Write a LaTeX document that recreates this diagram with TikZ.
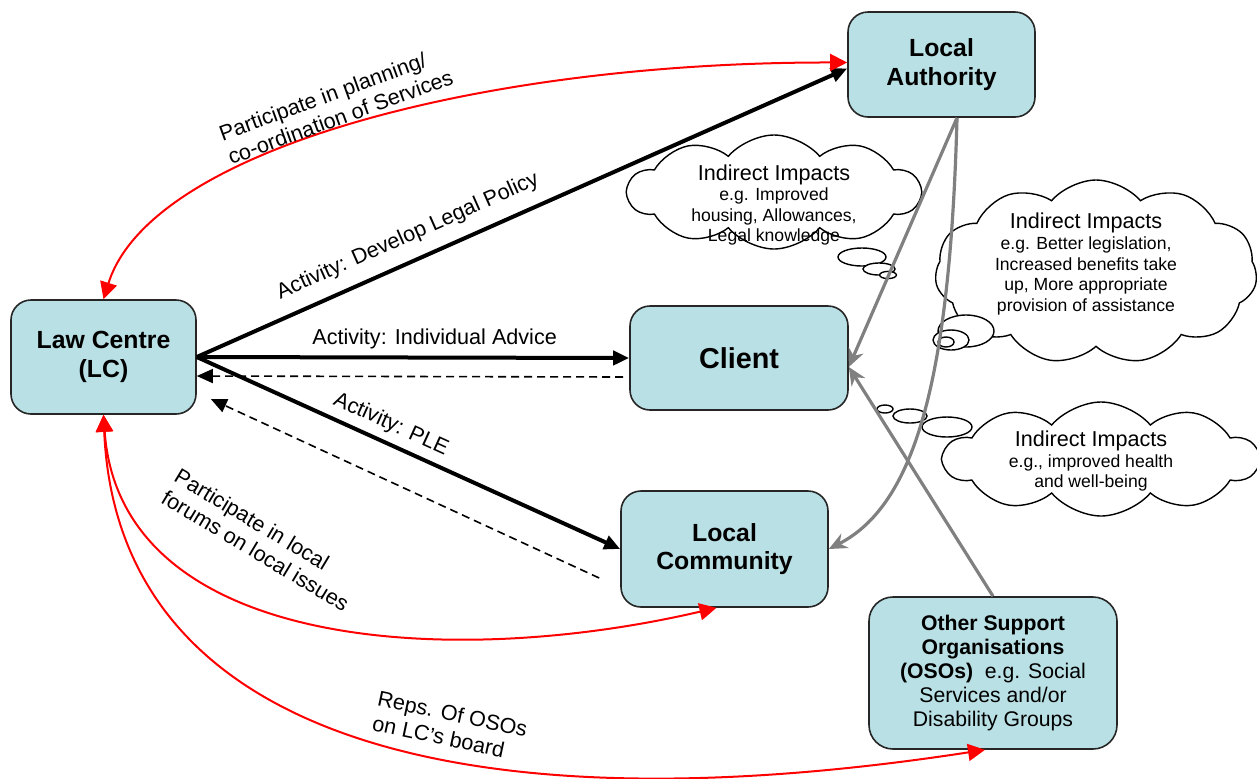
\documentclass[tikz,border=0pt]{standalone}
\usepackage{fontspec}
\setmainfont{Liberation Sans}
\usetikzlibrary{arrows.meta, shapes.symbols}

\definecolor{boxblue}{RGB}{185,224,228}
\definecolor{linkgray}{RGB}{128,128,128}

\tikzset{
  unit/.style={draw=black!85, line width=0.8pt, fill=boxblue, rounded corners=10pt,
    align=center, inner sep=0pt, font=\fontsize{12.4}{14.2}\selectfont\bfseries},
  activity/.style={line width=2pt, -{Triangle[length=8pt,width=7pt]}},
  feedback/.style={line width=0.8pt, dash pattern=on 4pt off 2.5pt, -{Triangle[length=8pt,width=7pt]}},
  partner/.style={red, line width=1pt, {Triangle[length=8.5pt,width=8.5pt]}-{Triangle[length=8.5pt,width=8.5pt]}},
  influence/.style={linkgray, line width=1.6pt, -{Stealth[length=9pt,width=8pt]}},
  impact/.style={cloud, cloud puffs=10, cloud puff arc=100, cloud ignores aspect, draw, line width=0.7pt, inner sep=0pt},
  impacttext/.style={align=center, font=\fontsize{8.8}{10.3}\selectfont},
  bubble/.style={draw, fill=white, line width=0.7pt},
  edgelabel/.style={font=\fontsize{10.8}{12.6}\selectfont}
}

\begin{document}
\begin{tikzpicture}[x=0.5pt, y=0.5pt]
  \useasboundingbox (0,0) rectangle (1257,-778);

  %Define nodes
  \node[unit, minimum width=92.5pt, minimum height=57pt] (lc) at (103.5,-357) {Law Centre\\(LC)};
  \node[unit, minimum width=93.5pt, minimum height=52.5pt] (la) at (941.5,-64.5) {Local\\Authority};
  \node[unit, minimum width=109pt, minimum height=52pt, font=\fontsize{14.4}{16}\selectfont\bfseries] (client) at (739,-358) {Client};
  \node[unit, minimum width=103.5pt, minimum height=58pt] (lcom) at (724.5,-549) {Local\\Community};
  \node[unit, minimum width=124pt, minimum height=76pt, rounded corners=12pt, font=\fontsize{10.6}{12}\selectfont] (oso) at (993,-673)
    {\textbf{Other Support}\\\textbf{Organisations}\\\textbf{(OSOs)}\ \ e.g. Social\\Services and/or\\Disability Groups};

  % Impact clouds
  \node[impact, minimum width=146pt, minimum height=57pt] (impA) at (774,-192) {};
  \node[impact, cloud puffs=11, minimum width=161pt, minimum height=92pt] (impB) at (1096,-272) {};
  \node[impact, minimum width=157pt, minimum height=57pt] (impC) at (1101,-459) {};
  \node[impacttext] (impAtext) at (774,-205) {{\fontsize{10.8}{10.3}\selectfont Indirect Impacts}\\e.g. Improved\\housing, Allowances,\\Legal knowledge};
  \node[impacttext] (impBtext) at (1086,-264) {{\fontsize{10.8}{10.3}\selectfont Indirect Impacts}\\e.g. Better legislation,\\Increased benefits take\\up, More appropriate\\provision of assistance};
  \node[impacttext] (impCtext) at (1091,-461) {{\fontsize{10.8}{10.3}\selectfont Indirect Impacts}\\e.g., improved health\\and well-being};
  \draw[bubble] (862,-257) ellipse (12pt and 4.5pt);
  \draw[bubble] (879,-269) ellipse (8pt and 3pt);
  \draw[bubble] (888,-275) ellipse (4.2pt and 1.8pt);
  \draw[bubble] (966,-331) ellipse (14pt and 8pt);
  \draw[bubble] (951,-340) ellipse (9pt and 5pt);
  \draw[bubble] (946,-342) ellipse (4pt and 2.5pt);
  \draw[bubble] (947,-427) ellipse (12.5pt and 5pt);
  \draw[bubble] (910,-416) ellipse (8.5pt and 3.5pt);
  \draw[bubble] (885,-409) ellipse (4pt and 2pt);

  % Connect the nodes
  \draw[activity] (lc.east) -- ([yshift=-2pt]la.west)
    node[edgelabel, pos=0.34, sloped, above=3pt] (policylabel) {Activity: Develop Legal Policy};
  \draw[activity] (lc.east) -- (client.west)
    node[edgelabel, pos=0.55, above] (advicelabel) {Activity: Individual Advice};
  \draw[activity] (lc.east) -- (lcom.west)
    node[edgelabel, pos=0.44, sloped, above] (plelabel) {Activity: PLE};
  \draw[feedback] ([xshift=-3pt,yshift=-9.5pt]client.west) -- ([yshift=-9.5pt]lc.east);
  \draw[feedback] ([xshift=-10.5pt,yshift=-14.5pt]lcom.west) -- ([xshift=7pt,yshift=-21pt]lc.east);

  % Partnership links
  \draw[partner] (lc.north) .. controls (150,-150) and (480,-62) .. ([yshift=1pt]la.west);
  \draw[partner] (lc.south) .. controls (120,-650) and (450,-670) .. ([xshift=-4pt]lcom.south);
  \draw[partner] (lc.south) .. controls (117,-732) and (450,-832) .. ([xshift=-4pt]oso.south);
  \node[edgelabel, rotate=20, align=left] (planlabel) at (336,-105) {Participate in planning/\\co-ordination of Services};
  \node[edgelabel, rotate=-31, align=left] (forumlabel) at (262,-540) {Participate in local\\forums on local issues};
  \node[edgelabel, rotate=-12, align=left] (replabel) at (450,-726) {Reps. Of OSOs\\on LC’s board};

  % Indirect influence
  \draw[influence] ([xshift=7.75pt]la.south) -- ([yshift=-4.5pt]client.east);
  \draw[influence] (oso.north) -- ([yshift=-4.5pt]client.east);
  \draw[influence] ([xshift=7.75pt]la.south) .. controls (950,-380) and (915,-505) .. (lcom.east);

\end{tikzpicture}
\end{document}
